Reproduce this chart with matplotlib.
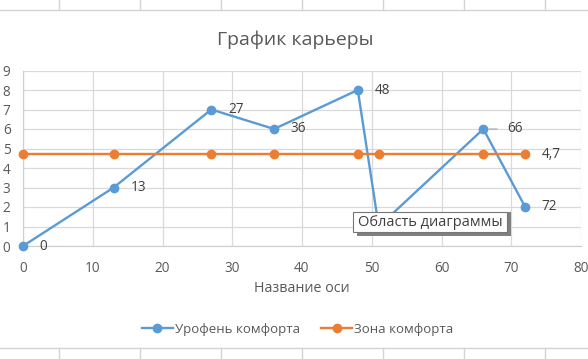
import matplotlib
matplotlib.use("Agg")
import matplotlib.pyplot as plt
from matplotlib.lines import Line2D
from matplotlib.patches import Rectangle

# ---- data ----
x_values = [0, 13, 27, 36, 48, 51, 66, 72]
career_level = [0, 3, 7, 6, 8, 1, 6, 2]
comfort_zone = [4.7, 4.7, 4.7, 4.7, 4.7, 4.7, 4.7, 4.7]
# the label of the 6th point is hidden by the tooltip in the reference
career_labels = ["0", "13", "27", "36", "48", "", "66", "72"]
zone_label = "4,7"
series_names = ["Урофень комфорта", "Зона комфорта"]
title = "График карьеры"
x_axis_title = "Название оси"
x_ticks = [0, 10, 20, 30, 40, 50, 60, 70, 80]
y_ticks = [0, 1, 2, 3, 4, 5, 6, 7, 8, 9]
tooltip_text = "Область диаграммы"

BLUE = "#5B9BD5"
ORANGE = "#ED7D31"
TXT = "#595959"
GRID = "#d9d9d9"

plt.rcParams["font.family"] = ["Open Sans", "DejaVu Sans"]

W, H = 588, 359
fig = plt.figure(figsize=(W / 100, H / 100), dpi=100)
fig.patch.set_facecolor("white")

# spreadsheet cell lines behind the chart
def px_line(x0, y0, x1, y1):
    fig.add_artist(Line2D([x0 / W, x1 / W], [1 - y0 / H, 1 - y1 / H],
                          transform=fig.transFigure, color="#d4d4d4", lw=1.0, zorder=0))

px_line(0, 10, W, 10)
px_line(0, 348, W, 348)
for cx in [59, 140, 221, 302, 383, 464, 545]:
    px_line(cx, 0, cx, 10)
    px_line(cx, 348, cx, H)

ax = fig.add_axes([23 / W, 1 - 246 / H, (581 - 23) / W, (246 - 70.5) / H])
ax.set_xlim(0, 80)
ax.set_ylim(0, 9)
ax.set_xticks(x_ticks)
ax.set_yticks(y_ticks)
ax.grid(True, color=GRID, lw=0.9)
ax.set_axisbelow(True)
for s in ["top", "right"]:
    ax.spines[s].set_visible(False)
for s in ["left", "bottom"]:
    ax.spines[s].set_color("#d0d0d0")
    ax.spines[s].set_linewidth(0.9)
ax.tick_params(length=0, labelsize=9.8, colors=TXT)
ax.tick_params(axis="y", pad=9)
ax.tick_params(axis="x", pad=11)

l1, = ax.plot(x_values, career_level, color=BLUE, lw=1.7, marker="o", ms=6,
              label=series_names[0], zorder=3, clip_on=False)
l2, = ax.plot(x_values, comfort_zone, color=ORANGE, lw=1.7, marker="o", ms=6,
              label=series_names[1], zorder=3, clip_on=False)

for xv, yv, lab in zip(x_values, career_level, career_labels):
    if not lab:
        continue
    dx = 17 if lab == "66" else 12
    ax.annotate(lab, (xv, yv), xytext=(dx, 0), textcoords="offset points",
                va="center", ha="left", fontsize=9.8, color="#404040", zorder=4)
# leader line for the moved label
ax.annotate("", (x_values[6], career_level[6]), xytext=(10, 0), textcoords="offset points",
            arrowprops=dict(arrowstyle="-", color="#a6a6a6", lw=0.8, shrinkA=0, shrinkB=4))
ax.annotate(zone_label, (x_values[-1], comfort_zone[-1]), xytext=(12, 0),
            textcoords="offset points", va="center", ha="left", fontsize=9.8,
            color="#404040", zorder=4)

fig.text(295 / W, 1 - 40 / H, title, ha="center", va="center", fontsize=14, color=TXT)
fig.text(302 / W, 1 - 288 / H, x_axis_title, ha="center", va="center", fontsize=10.3, color=TXT)

fig.legend(handles=[l1, l2], loc="center", bbox_to_anchor=(298 / W, 1 - 329 / H),
           ncol=2, frameon=False, fontsize=9.5, labelcolor=TXT, handlelength=2.3,
           handletextpad=0.2, columnspacing=1.6)

# tooltip
fig.add_artist(Rectangle((357 / W, 1 - 236 / H), (154) / W, (24) / H,
                         transform=fig.transFigure, facecolor="#808080",
                         edgecolor="none", zorder=10))
fig.add_artist(Rectangle((353 / W, 1 - 232 / H), (154) / W, (20) / H,
                         transform=fig.transFigure, facecolor="white",
                         edgecolor="#767676", lw=0.8, zorder=11))
fig.text(430 / W, 1 - 222.5 / H, tooltip_text, ha="center", va="center",
         fontsize=10.5, color="#404040", zorder=12)

fig.savefig("out.png", dpi=100)
